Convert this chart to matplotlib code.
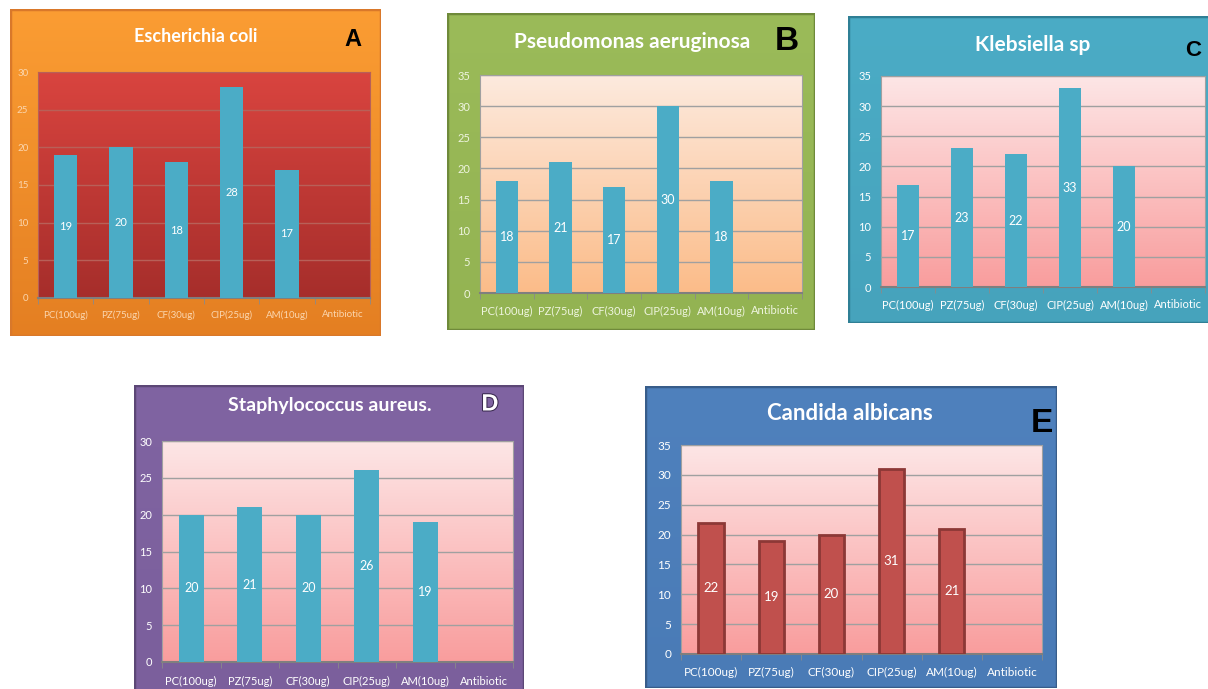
import matplotlib.pyplot as plt
import numpy as np
from matplotlib import patheffects
from matplotlib.colors import LinearSegmentedColormap
from matplotlib.patches import Rectangle

plt.rcParams['font.family'] = ['Lato', 'DejaVu Sans']

W, H = 1208, 689

antibiotics = ['PC(100ug)', 'PZ(75ug)', 'CF(30ug)', 'CIP(25ug)', 'AM(10ug)', 'Antibiotic']
e_coli = [19, 20, 18, 28, 17]
p_aeruginosa = [18, 21, 17, 30, 18]
klebsiella = [17, 23, 22, 33, 20]
s_aureus = [20, 21, 20, 26, 19]
c_albicans = [22, 19, 20, 31, 21]

fig = plt.figure(figsize=(W / 100, H / 100), dpi=100)


def px_box(x0, y0, x1, y1):
    # pixel box (top-left origin) -> figure fraction rect
    return [x0 / W, 1 - y1 / H, (x1 - x0) / W, (y1 - y0) / H]


def gradient(ax, top, bottom):
    cmap = LinearSegmentedColormap.from_list('g', [bottom, top])
    ax.imshow(np.linspace(0, 1, 256).reshape(-1, 1), cmap=cmap, origin='lower',
              extent=[0, 1, 0, 1], transform=ax.transAxes, aspect='auto',
              zorder=0, interpolation='bilinear')


def panel(frame, area, vals, ymax, title, title_xy, title_size, letter, letter_xy,
          letter_size, frame_top, frame_bottom, frame_edge, bg_top, bg_bottom,
          bar_color='#4bacc6', bar_edge='none', tick_color='white', grid_color='#a0a0a0',
          letter_color='black', font_size=8, xpad=8):
    fa = fig.add_axes(px_box(*frame), zorder=0)
    fa.set_axis_off()
    gradient(fa, frame_top, frame_bottom)
    fa.set_xlim(0, 1)
    fa.set_ylim(0, 1)
    fa.add_patch(Rectangle((0, 0), 1, 1, transform=fa.transAxes, fill=False,
                           edgecolor=frame_edge, lw=2.5, zorder=2))

    ax = fig.add_axes(px_box(*area), zorder=1)
    gradient(ax, bg_top, bg_bottom)
    x = np.arange(len(vals)) + 0.5
    ax.bar(x, vals, width=0.42, color=bar_color, edgecolor=bar_edge, lw=2, zorder=3)
    for xi, v in zip(x, vals):
        ax.text(xi, v / 2, str(v), ha='center', va='center', color='white',
                fontsize=font_size + 1, zorder=4)
    ax.set_xlim(0, len(antibiotics))
    ax.set_ylim(0, ymax)
    ax.set_yticks(range(0, ymax + 1, 5))
    ax.yaxis.grid(True, color=grid_color, lw=1, zorder=1)
    ax.set_axisbelow(True)
    ax.set_xticks(np.arange(len(antibiotics)) + 0.5, labels=antibiotics)
    ax.set_xticks(np.arange(len(antibiotics) + 1), minor=True)
    ax.tick_params(axis='x', which='major', length=0, pad=xpad,
                   labelsize=font_size, labelcolor=tick_color)
    ax.tick_params(axis='x', which='minor', length=4, color='#8a8a8a')
    ax.tick_params(axis='y', length=0, pad=7, labelsize=font_size, labelcolor=tick_color)
    for side in ['top', 'right', 'left']:
        ax.spines[side].set_color(grid_color)
        ax.spines[side].set_linewidth(0.8)
    ax.spines['bottom'].set_color('#7f7f7f')
    ax.spines['bottom'].set_linewidth(1.5)

    fig.text(title_xy[0] / W, 1 - title_xy[1] / H, title, ha='center', va='center',
             color='white', fontsize=title_size, fontweight='bold', zorder=5)
    t = fig.text(letter_xy[0] / W, 1 - letter_xy[1] / H, letter, ha='center', va='center',
                 color=letter_color, fontsize=letter_size, fontweight='bold',
                 family='Liberation Sans', zorder=5)
    if letter_color == 'white':
        t.set_path_effects([patheffects.withStroke(linewidth=1.5, foreground='#3a2a50')])
    return ax


# A - Escherichia coli
panel((10, 9, 381, 336), (38, 72, 370, 298), e_coli, 30, 'Escherichia coli', (196, 37), 13,
      'A', (353, 39), 17, '#fb9d33', '#e47f22', '#d9782a', '#d9443f', '#a62e2b',
      tick_color='#fbd6ae', grid_color='#b86058', font_size=7, xpad=9)

# B - Pseudomonas aeruginosa
panel((447, 13, 815, 330), (480, 75, 802, 293), p_aeruginosa, 35, 'Pseudomonas aeruginosa',
      (632, 42), 15, 'B', (787, 42), 24, '#9bbb59', '#93b352', '#6f8a3a', '#fdeade', '#fbbc89',
      tick_color='#eef4de', font_size=8, xpad=9)

# C - Klebsiella sp
panel((848, 16, 1210, 323), (881, 76, 1205, 287), klebsiella, 35, 'Klebsiella sp',
      (1033, 45), 15, 'C', (1193, 51), 16, '#4bacc6', '#46a3bc', '#2f7f95', '#fde6e6', '#f99d9d',
      font_size=8, xpad=9)

# D - Staphylococcus aureus
panel((134, 385, 524, 692), (162, 441, 513, 662), s_aureus, 30, 'Staphylococcus aureus.',
      (330, 405), 14, 'D', (490, 404), 17, '#8064a2', '#7b5f9c', '#5c4776', '#fde6e6', '#f99d9d',
      letter_color='white', font_size=8, xpad=10)

# E - Candida albicans
panel((645, 386, 1057, 688), (681, 445, 1042, 654), c_albicans, 35, 'Candida albicans',
      (850, 413), 16, 'E', (1042, 424), 24, '#4f81bd', '#4a7bb6', '#385d8a', '#fde6e6', '#f99d9d',
      bar_color='#c0504d', bar_edge='#8c3836', font_size=8.5, xpad=9)

fig.savefig('out.png', dpi=100)
